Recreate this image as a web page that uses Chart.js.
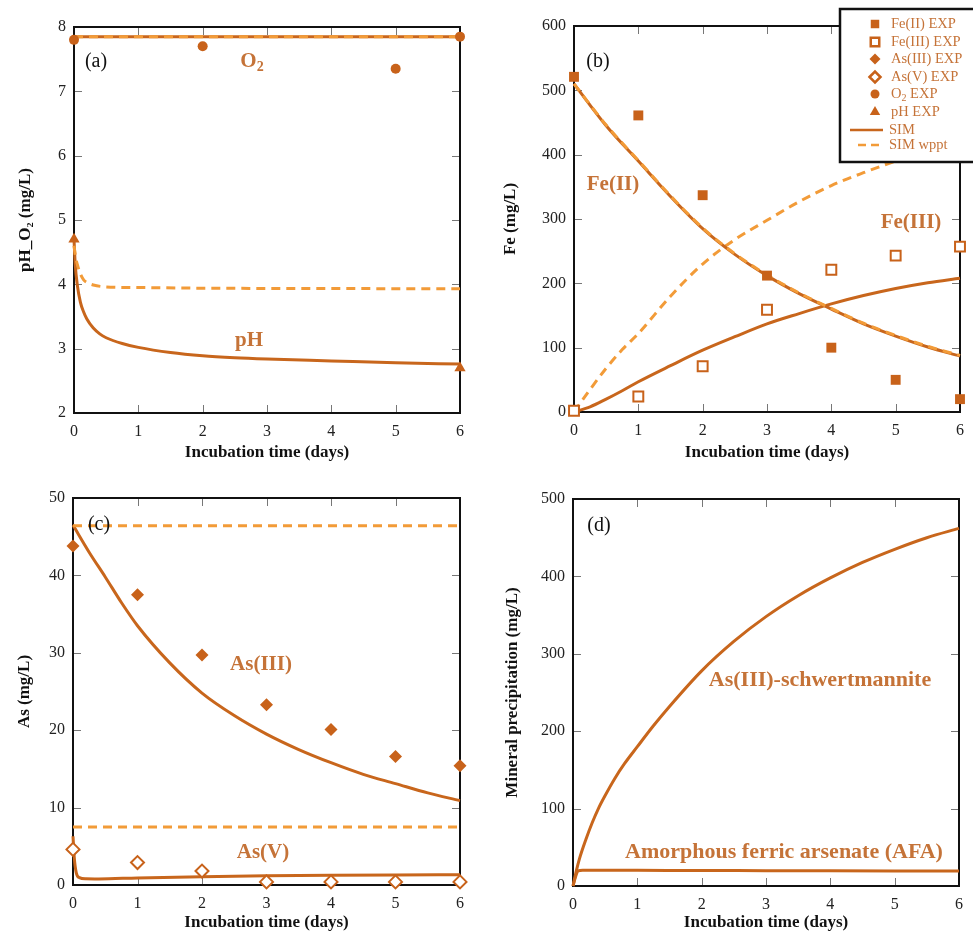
<!DOCTYPE html>
<html><head><meta charset="utf-8">
<script src="https://cdn.jsdelivr.net/npm/chart.js@4.4.1/dist/chart.umd.min.js"></script>
<style>
body{margin:0;background:#fff;width:973px;height:933px;overflow:hidden;position:relative}
canvas{position:absolute}
</style></head><body>
<canvas id="ca" width="480" height="466" style="left:0;top:0"></canvas>
<canvas id="cb" width="493" height="466" style="left:480px;top:0"></canvas>
<canvas id="cc" width="480" height="467" style="left:0;top:466px"></canvas>
<canvas id="cd" width="493" height="467" style="left:480px;top:466px"></canvas>
<script>
// ---------- data ----------
const xTicks = [0,1,2,3,4,5,6];
const xTitle = 'Incubation time (days)';
// panel (a)
const aTicks = [2,3,4,5,6,7,8];
const o2ExpT = [0,2,5,6];
const o2ExpV = [7.8,7.7,7.35,7.85];
const o2SimT = [0,6];
const o2SimV = [7.85,7.85];
const o2WpptV = [7.85,7.85];
const phExpT = [0,6];
const phExpV = [4.7,2.7];
const phSimT = [0,0.02,0.05,0.1,0.15,0.2,0.3,0.4,0.5,0.75,1,1.5,2,2.5,3,4,5,6];
const phSimV = [4.7,4.3,4.0,3.72,3.57,3.46,3.32,3.23,3.17,3.08,3.02,2.94,2.89,2.86,2.84,2.81,2.78,2.76];
const phWpptT = [0,0.03,0.06,0.1,0.15,0.2,0.3,0.5,1,2,4,6];
const phWpptV = [4.6,4.4,4.28,4.16,4.07,4.03,3.99,3.96,3.95,3.94,3.935,3.93];
// panel (b)
const bTicks = [0,100,200,300,400,500,600];
const expT = [0,1,2,3,4,5,6];
const fe2ExpV = [521,461,337,212,100,50,20];
const fe3ExpV = [2,24,71,159,221,243,257];
const simT = [0,0.5,1,1.5,2,2.5,3,3.5,4,4.5,5,5.5,6];
const fe2SimV = [510,445,390,335,285,245,212,184,160,137,118,101,87];
const fe2WpptV = [510,446,391,336,286,246,213,185,161,138,119,102,88];
const fe3SimT = [0,0.25,0.5,0.75,1,1.5,2,2.5,3,3.5,4,4.5,5,5.5,6];
const fe3SimV = [0,8,20,33,47,72,96,117,137,153,168,181,192,201,208];
const fe3WpptV = [0,35,68,97,122,180,230,268,298,327,352,372,390,405,418];
// panel (c)
const cTicks = [0,10,20,30,40,50];
const as3ExpV = [43.8,37.5,29.7,23.3,20.1,16.6,15.4];
const as5ExpV = [4.6,2.9,1.8,0.4,0.4,0.4,0.4];
const as3SimT = [0,0.25,0.5,0.75,1,1.5,2,2.5,3,3.5,4,4.5,5,5.5,6];
const as3SimV = [46.5,43,39.8,36.5,33.5,28.7,24.8,21.9,19.5,17.5,15.8,14.3,13.1,11.9,10.9];
const as3WpptT = [0,6];
const as3WpptV = [46.4,46.4];
const as5SimT = [0,0.02,0.05,0.1,0.2,0.4,1,2,3,4,5,6];
const as5SimV = [6.3,3.5,1.6,0.95,0.8,0.78,0.92,1.08,1.18,1.25,1.3,1.33];
const as5WpptV = [7.5,7.5];
// panel (d)
const dTicks = [0,100,200,300,400,500];
const schT = [0,0.05,0.1,0.2,0.3,0.4,0.5,0.65,0.8,1,1.25,1.5,2,2.5,3,3.5,4,4.5,5,5.5,6];
const schV = [0,19,35,60,82,101,117,139,158,180,207,232,278,316,348,375,398,418,435,450,462];
const afaT = [0,0.04,0.08,0.15,1,2,3,4,5,6];
const afaV = [0,12,19.5,20.5,20.3,20,19.8,19.6,19.5,19.4];

// ---------- styles ----------
const SERIF = '"Liberation Serif","DejaVu Serif",serif';
const MARK = '#c8621a';
const SOLID = '#c8661c';
const DASH = '#f29b38';
const LBL = '#c57338';
const tickFont = {family: SERIF, size: 16};
const titleFont = {family: SERIF, size: 17, weight: 'bold', lineHeight: 1.2};

const zip = (t, v) => t.map((x, i) => ({x, y: v[i]}));
const pts = (t, v, style, r, filled) => ({
  data: zip(t, v), showLine: false, pointStyle: style, pointRadius: r,
  pointBackgroundColor: filled ? MARK : '#ffffff', pointBorderColor: MARK,
  pointBorderWidth: filled ? 0 : 2, clip: false
});
const solid = (t, v) => ({data: zip(t, v), showLine: true, pointRadius: 0,
  borderColor: SOLID, borderWidth: 3, cubicInterpolationMode: 'monotone', clip: false});
const dashed = (t, v) => ({data: zip(t, v), showLine: true, pointRadius: 0,
  borderColor: DASH, borderWidth: 3, borderDash: [9, 6], cubicInterpolationMode: 'monotone', clip: false});

function drawSub(ctx, main, sub, x, y, size, align) {
  ctx.save();
  ctx.textBaseline = 'middle';
  ctx.font = `bold ${size}px ${SERIF}`;
  const w1 = ctx.measureText(main).width;
  ctx.font = `bold ${Math.round(size*0.65)}px ${SERIF}`;
  const w2 = ctx.measureText(sub).width;
  let x0 = align === 'center' ? x - (w1 + w2) / 2 : x;
  ctx.textAlign = 'left';
  ctx.font = `bold ${size}px ${SERIF}`;
  ctx.fillText(main, x0, y);
  ctx.font = `bold ${Math.round(size*0.65)}px ${SERIF}`;
  ctx.fillText(sub, x0 + w1, y + size * 0.28);
  ctx.restore();
}

function framePlugin(o) {
  return {
    id: 'frame' + o.id,
    beforeDatasetsDraw(chart) {
      const {ctx, chartArea: {left, top, right, bottom}, scales: {x, y}} = chart;
      ctx.save();
      ctx.strokeStyle = '#777'; ctx.lineWidth = 1;
      ctx.beginPath();
      xTicks.forEach(v => { const px = Math.round(x.getPixelForValue(v)) + 0.5;
        ctx.moveTo(px, bottom); ctx.lineTo(px, bottom - 8);
        ctx.moveTo(px, top); ctx.lineTo(px, top + 8); });
      o.yTicks.forEach(v => { const py = Math.round(y.getPixelForValue(v)) + 0.5;
        ctx.moveTo(left, py); ctx.lineTo(left + 8, py);
        ctx.moveTo(right, py); ctx.lineTo(right - 8, py); });
      ctx.stroke();
      ctx.strokeStyle = '#111'; ctx.lineWidth = 2;
      ctx.strokeRect(left, top, right - left, bottom - top);
      ctx.restore();
    },
    afterDraw(chart) {
      const ctx = chart.ctx;
      ctx.save();
      ctx.textAlign = 'center'; ctx.textBaseline = 'middle';
      ctx.fillStyle = '#111';
      ctx.font = `20px ${SERIF}`;
      ctx.fillText(o.tag[0], o.tag[1], o.tag[2]);
      ctx.fillStyle = LBL;
      o.labels.forEach(l => {
        const sz = l.s || 21;
        if (l.sub) { drawSub(ctx, l.t, l.sub, l.x, l.y, sz, 'center'); }
        else { ctx.font = `bold ${sz}px ${SERIF}`; ctx.fillText(l.t, l.x, l.y); }
      });
      if (o.legend) drawLegend(ctx);
      ctx.restore();
    }
  };
}

const legendItems = [
  {t: 'Fe(II) EXP', style: 'rect', r: 6, filled: true},
  {t: 'Fe(III) EXP', style: 'rect', r: 6, filled: false},
  {t: 'As(III) EXP', style: 'rectRot', r: 5.5, filled: true},
  {t: 'As(V) EXP', style: 'rectRot', r: 5.5, filled: false},
  {t: 'O', sub: '2', rest: ' EXP', style: 'circle', r: 4.5, filled: true},
  {t: 'pH EXP', style: 'triangle', r: 6, filled: true},
  {t: 'SIM', line: 'solid'},
  {t: 'SIM wppt', line: 'dash'}
];
const legendRowsY = [24, 42, 59, 77, 94, 112, 130, 145];

function drawLegend(ctx) {
  ctx.save();
  ctx.fillStyle = '#fff';
  ctx.fillRect(360, 9, 140, 153);
  ctx.strokeStyle = '#111'; ctx.lineWidth = 2.5;
  ctx.strokeRect(360, 9, 140, 153);
  legendItems.forEach((it, i) => {
    const y = legendRowsY[i];
    if (it.line) {
      ctx.beginPath();
      ctx.strokeStyle = it.line === 'solid' ? SOLID : DASH;
      ctx.lineWidth = 2.5;
      ctx.setLineDash(it.line === 'solid' ? [] : [8, 5]);
      ctx.moveTo(it.line === 'solid' ? 370 : 378, y); ctx.lineTo(403, y); ctx.stroke();
      ctx.setLineDash([]);
    } else {
      ctx.fillStyle = it.filled ? MARK : '#fff';
      ctx.strokeStyle = MARK;
      Chart.helpers.drawPoint(ctx, {pointStyle: it.style, radius: it.r, rotation: 0,
        borderWidth: it.filled ? 0 : 1.8}, 395, y);
    }
    ctx.fillStyle = LBL;
    ctx.textAlign = 'left'; ctx.textBaseline = 'middle';
    ctx.font = `14.5px ${SERIF}`;
    const tx = it.line ? 409 : 411;
    if (it.sub) {
      ctx.fillText(it.t, tx, y);
      const w = ctx.measureText(it.t).width;
      ctx.font = `10px ${SERIF}`;
      ctx.fillText(it.sub, tx + w, y + 4);
      const w2 = ctx.measureText(it.sub).width;
      ctx.font = `14.5px ${SERIF}`;
      ctx.fillText(it.rest, tx + w + w2, y);
    } else ctx.fillText(it.t, tx, y);
  });
  ctx.restore();
}

function mk(o) {
  const A = o.area;
  const cv = document.getElementById(o.id);
  const W = cv.width, H = cv.height;
  return new Chart(cv, {
    type: 'scatter',
    data: {datasets: o.datasets},
    options: {
      responsive: false, animation: false, devicePixelRatio: 1,
      layout: {padding: {left: 0, top: A.t, right: W - A.r, bottom: 0}},
      plugins: {legend: {display: false}, tooltip: {enabled: false}},
      scales: {
        x: {type: 'linear', min: 0, max: 6,
          afterBuildTicks: s => { s.ticks = xTicks.map(v => ({value: v})); },
          afterFit: s => { s.height = H - A.b; },
          grid: {display: false, drawTicks: false}, border: {display: false},
          ticks: {font: tickFont, color: '#222', padding: 9, maxRotation: 0, autoSkip: false},
          title: {display: true, text: xTitle, font: titleFont, color: '#111', padding: {top: 0, bottom: o.xtb}}},
        y: {type: 'linear', min: o.yTicks[0], max: o.yTicks[o.yTicks.length - 1],
          afterBuildTicks: s => { s.ticks = o.yTicks.map(v => ({value: v})); },
          afterFit: s => { s.width = A.l; },
          grid: {display: false, drawTicks: false}, border: {display: false},
          ticks: {font: tickFont, color: '#222', padding: 8, autoSkip: false},
          title: {display: true, text: o.yTitle, font: titleFont, color: '#111', padding: {top: o.ytp, bottom: 0}}}
      }
    },
    plugins: [framePlugin(o)]
  });
}

mk({id: 'ca', area: {l: 74, t: 27, r: 460, b: 413}, yTicks: aTicks, yTitle: 'pH_O\u2082 (mg/L)', xtb: 3, ytp: 15,
  tag: ['(a)', 96, 62],
  labels: [{t: 'O', sub: '2', x: 252, y: 62}, {t: 'pH', x: 249, y: 341}],
  datasets: [
    pts(o2ExpT, o2ExpV, 'circle', 5, true),
    pts(phExpT, phExpV, 'triangle', 6.5, true),
    dashed(o2SimT, o2WpptV), solid(o2SimT, o2SimV),
    dashed(phWpptT, phWpptV), solid(phSimT, phSimV)
  ]});

mk({id: 'cb', area: {l: 94, t: 26, r: 480, b: 412}, yTicks: bTicks, yTitle: 'Fe (mg/L)', xtb: 3, ytp: 20,
  tag: ['(b)', 118, 62], legend: true,
  labels: [{t: 'Fe(II)', x: 133, y: 185}, {t: 'Fe(III)', x: 431, y: 223}],
  datasets: [
    pts(expT, fe2ExpV, 'rect', 7, true),
    pts(expT, fe3ExpV, 'rect', 7, false),
    dashed(simT, fe2WpptV), solid(simT, fe2SimV),
    dashed(fe3SimT, fe3WpptV), solid(fe3SimT, fe3SimV)
  ]});

mk({id: 'cc', area: {l: 73, t: 32, r: 460, b: 419}, yTicks: cTicks, yTitle: 'As (mg/L)', xtb: 0, ytp: 14,
  tag: ['(c)', 99, 59],
  labels: [{t: 'As(III)', x: 261, y: 199}, {t: 'As(V)', x: 263, y: 387}],
  datasets: [
    pts(expT, as3ExpV, 'rectRot', 6.5, true),
    pts(expT, as5ExpV, 'rectRot', 6.5, false),
    dashed(as3WpptT, as3WpptV), solid(as3SimT, as3SimV),
    dashed(as3WpptT, as5WpptV), solid(as5SimT, as5SimV)
  ]});

mk({id: 'cd', area: {l: 93, t: 33, r: 479, b: 420}, yTicks: dTicks, yTitle: 'Mineral precipitation (mg/L)', xtb: 0, ytp: 22,
  tag: ['(d)', 119, 60],
  labels: [{t: 'As(III)-schwertmannite', x: 340, y: 214, s: 22}, {t: 'Amorphous ferric arsenate (AFA)', x: 304, y: 386, s: 22}],
  datasets: [solid(schT, schV), solid(afaT, afaV)]});
</script>
</body></html>
